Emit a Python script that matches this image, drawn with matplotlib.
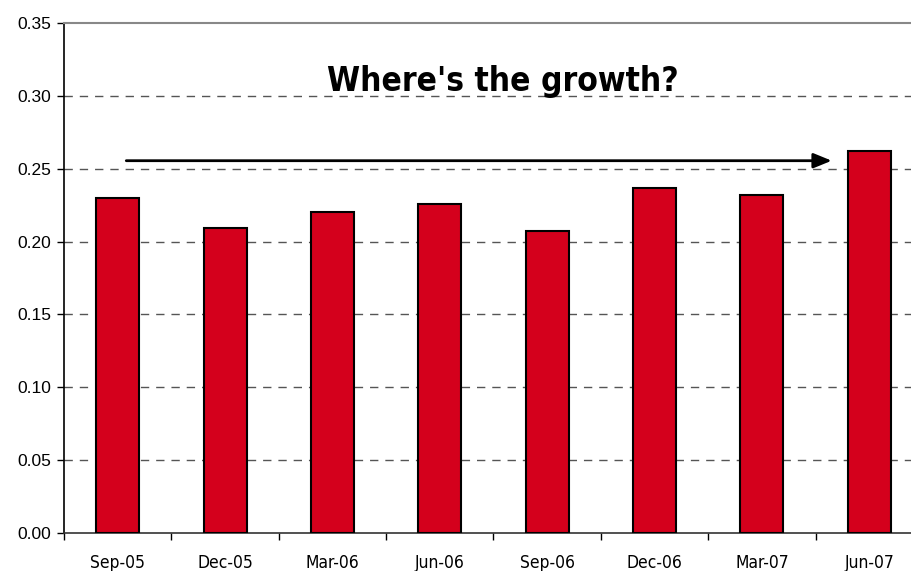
import matplotlib
matplotlib.use("Agg")
import matplotlib.pyplot as plt
from matplotlib.ticker import FixedLocator, FixedFormatter
import numpy as np

categories = ["Sep-05", "Dec-05", "Mar-06", "Jun-06", "Sep-06", "Dec-06", "Mar-07", "Jun-07"]
values = [0.230, 0.209, 0.220, 0.226, 0.207, 0.237, 0.232, 0.262]
yticks = [0.00, 0.05, 0.10, 0.15, 0.20, 0.25, 0.30, 0.35]
title = "Where's the growth?"
arrow_start = (0.08, 0.2555)
arrow_end = (6.65, 0.2555)

W, H = 912, 571
fig = plt.figure(figsize=(W / 100, H / 100), dpi=100)
left, right, top, bottom = 64, 923, 23, 533
ax = fig.add_axes([left / W, (H - bottom) / H, (right - left) / W, (bottom - top) / H])

x = np.arange(len(categories))
ax.bar(x, values, width=0.4, color="#D4001C", edgecolor="black", linewidth=1.5, zorder=3)

ax.set_xlim(-0.5, len(categories) - 0.5)
ax.set_ylim(0, 0.35)
ax.set_yticks(yticks)
ax.set_yticklabels([f"{v:.2f}" for v in yticks], fontsize=12.5, family="Liberation Sans")

# category boundaries as major ticks, labels at minor ticks
ax.xaxis.set_major_locator(FixedLocator(np.arange(-0.5, len(categories) + 0.5, 1.0)))
ax.xaxis.set_major_formatter(FixedFormatter([""] * (len(categories) + 1)))
ax.xaxis.set_minor_locator(FixedLocator(x))
ax.xaxis.set_minor_formatter(FixedFormatter(categories))
ax.tick_params(axis="x", which="major", length=5, width=1, direction="out", color="black")
ax.tick_params(axis="x", which="minor", length=0, pad=15, labelsize=12.5)
for lab in ax.get_xticklabels(minor=True):
    lab.set_family("DejaVu Sans")
    lab.set_stretch("condensed")
ax.tick_params(axis="y", length=5, width=1, direction="out", pad=4)

for yv in yticks[1:-1]:
    ax.axhline(yv, color="#555555", linestyle=(0, (6, 5)), linewidth=1, zorder=1)

ax.spines["top"].set_color("#888888")
ax.spines["top"].set_linewidth(1.5)
ax.spines["right"].set_visible(False)
ax.spines["left"].set_linewidth(1.2)
ax.spines["bottom"].set_linewidth(1.2)
ax.spines["bottom"].set_color("#333333")

ax.annotate("", xy=arrow_end, xytext=arrow_start,
            arrowprops=dict(arrowstyle="-|>,head_length=1.1,head_width=0.45", color="black", lw=2,
                            shrinkA=0, shrinkB=0),
            zorder=4)

fig.text(503 / W, 1 - 81 / H, title, ha="center", va="center", fontsize=24,
         fontweight="bold", family="DejaVu Sans", stretch="condensed")

fig.savefig("out.png", dpi=100)
